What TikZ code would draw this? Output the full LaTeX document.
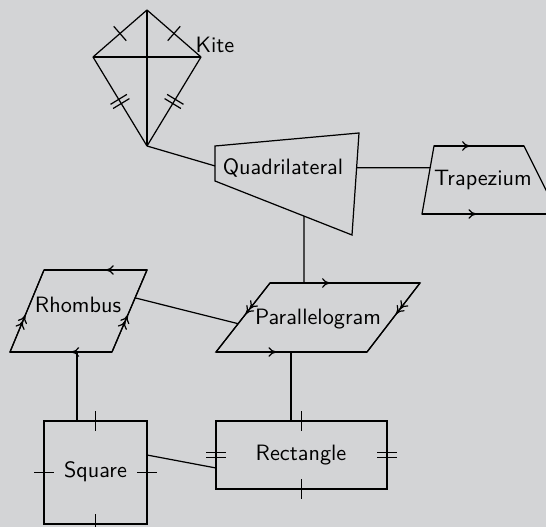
\documentclass[tikz,border=0pt]{standalone}
\usepackage{tikz}
\usetikzlibrary{calc,arrows.meta,decorations.markings}
\definecolor{qdbg}{RGB}{211,212,214}
\tikzset{
  outline/.style={draw=black, line join=miter},
  link/.style={draw=black},
  shapelabel/.style={font=\sffamily, inner sep=0pt},
  chevron/.tip={To[length=3.6pt, width=4.4pt]},
  tickmark/.style={postaction={decorate}, decoration={markings,
    mark=at position 0.5 with {\draw (0,-4.3pt) -- (0,4.3pt);}}},
  dtickmark/.style={postaction={decorate}, decoration={markings,
    mark=at position 0.5 with {\draw (-1.1pt,-4.3pt) -- (-1.1pt,4.3pt) (1.1pt,-4.3pt) -- (1.1pt,4.3pt);}}},
  parone/.style={postaction={decorate}, decoration={markings,
    mark=at position 0.4 with {\arrow{chevron}}}},
  partwo/.style={postaction={decorate}, decoration={markings,
    mark=at position 0.38 with {\arrow{chevron}},
    mark=at position 0.45 with {\arrow{chevron}}}}
}

\begin{document}
\begin{tikzpicture}[x=0.45pt, y=-0.45pt, line width=0.55pt]
    \fill[qdbg] (0,0) rectangle (546,527);
    \useasboundingbox (0,0) rectangle (546,527);

    % kite
    \coordinate (kite-t) at (147,10);
    \coordinate (kite-l) at (93,57);
    \coordinate (kite-r) at (201,57);
    \coordinate (kite-b) at (147,146);
    \draw[outline, tickmark] (kite-l) -- (kite-t);
    \draw[outline, tickmark] (kite-t) -- (kite-r);
    \draw[outline, dtickmark] (kite-l) -- (kite-b);
    \draw[outline, dtickmark] (kite-r) -- (kite-b);
    \draw[outline] (kite-t) -- (kite-b) (kite-l) -- (kite-r);
    \node[shapelabel] (kite) at (215,45) {Kite};

    % quadrilateral
    \coordinate (quad-a) at (215,146);
    \coordinate (quad-b) at (359,133);
    \coordinate (quad-c) at (352,235);
    \coordinate (quad-d) at (215,181);
    \draw[outline] (quad-a) -- (quad-b) -- (quad-c) -- (quad-d) -- cycle;
    \node[shapelabel] (quad) at (283,168) {Quadrilateral};

    % trapezium
    \coordinate (trap-a) at (434,146);
    \coordinate (trap-b) at (524,146);
    \coordinate (trap-c) at (558,214);
    \coordinate (trap-d) at (422,214);
    \draw[outline] (trap-a) -- (trap-b) -- (trap-c) -- (trap-d) -- cycle;
    \draw[outline, parone] (trap-a) -- (trap-b);
    \draw[outline, parone] (trap-d) -- (trap-c);
    \node[shapelabel] (trap) at (483,180) {Trapezium};

    % parallelogram
    \coordinate (para-a) at (270,283);
    \coordinate (para-b) at (420,283);
    \coordinate (para-c) at (367,352);
    \coordinate (para-d) at (216,352);
    \draw[outline] (para-a) -- (para-b) -- (para-c) -- (para-d) -- cycle;
    \draw[outline, parone] (para-a) -- (para-b);
    \draw[outline, parone] (para-d) -- (para-c);
    \draw[outline, partwo] (para-a) -- (para-d);
    \draw[outline, partwo] (para-b) -- (para-c);
    \node[shapelabel] (para) at (318,319) {Parallelogram};

    % rhombus
    \coordinate (rhom-a) at (44,270);
    \coordinate (rhom-b) at (147,270);
    \coordinate (rhom-c) at (112,352);
    \coordinate (rhom-d) at (10,352);
    \draw[outline] (rhom-a) -- (rhom-b) -- (rhom-c) -- (rhom-d) -- cycle;
    \draw[outline, parone] (rhom-b) -- (rhom-a);
    \draw[outline, parone] (rhom-c) -- (rhom-d);
    \draw[outline, partwo] (rhom-d) -- (rhom-a);
    \draw[outline, partwo] (rhom-c) -- (rhom-b);
    \node[shapelabel] (rhom) at (78,305) {Rhombus};

    % square
    \coordinate (sq-a) at (44,421);
    \coordinate (sq-b) at (147,421);
    \coordinate (sq-c) at (147,524);
    \coordinate (sq-d) at (44,524);
    \draw[outline] (sq-a) -- (sq-b) -- (sq-c) -- (sq-d) -- cycle;
    \draw[outline, tickmark] (sq-a) -- (sq-b);
    \draw[outline, tickmark] (sq-b) -- (sq-c);
    \draw[outline, tickmark] (sq-c) -- (sq-d);
    \draw[outline, tickmark] (sq-d) -- (sq-a);
    \node[shapelabel] (square) at (95.5,472) {Square};

    % rectangle
    \coordinate (rect-a) at (216,421);
    \coordinate (rect-b) at (387,421);
    \coordinate (rect-c) at (387,489);
    \coordinate (rect-d) at (216,489);
    \draw[outline] (rect-a) -- (rect-b) -- (rect-c) -- (rect-d) -- cycle;
    \draw[outline, tickmark] (rect-a) -- (rect-b);
    \draw[outline, dtickmark] (rect-b) -- (rect-c);
    \draw[outline, tickmark] (rect-c) -- (rect-d);
    \draw[outline, dtickmark] (rect-d) -- (rect-a);
    \node[shapelabel] (rect) at (301,455) {Rectangle};

    % links
    \coordinate (quad-w) at ($(quad-a)!0.57!(quad-d)$);
    \coordinate (quad-e) at ($(quad-b)!0.34!(quad-c)$);
    \coordinate (quad-s) at ($(quad-d)!0.65!(quad-c)$);
    \coordinate (trap-w) at ($(trap-a)!0.32!(trap-d)$);
    \coordinate (para-n) at (304,283);
    \coordinate (para-w) at ($(para-a)!0.59!(para-d)$);
    \coordinate (para-s) at (291,352);
    \coordinate (rhom-e) at ($(rhom-b)!0.34!(rhom-c)$);
    \coordinate (rhom-s) at (77,352);
    \coordinate (sq-n) at (77,421);
    \coordinate (sq-e) at (147,455);
    \coordinate (rect-n) at (291,421);
    \coordinate (rect-w) at (216,468);

    \draw[link] (kite-b) -- (quad-w);
    \draw[link] (quad-e) -- (trap-w);
    \draw[link] (quad-s) -- (para-n);
    \draw[link] (rhom-e) -- (para-w);
    \draw[link] (rhom-s) -- (sq-n);
    \draw[link] (para-s) -- (rect-n);
    \draw[link] (sq-e) -- (rect-w);
\end{tikzpicture}
\end{document}
